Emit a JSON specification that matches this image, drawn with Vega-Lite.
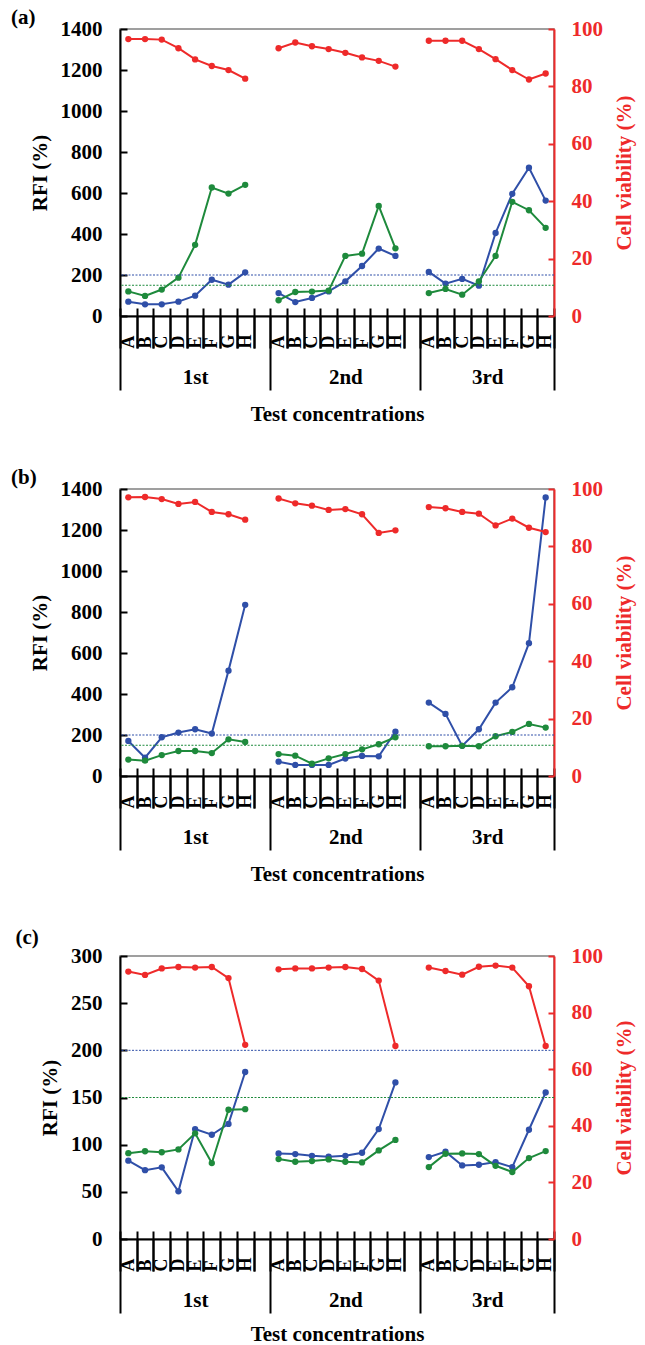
{
  "$schema": "https://vega.github.io/schema/vega-lite/v6.json",
  "background": "white",
  "padding": {"left": 10, "top": 6, "right": 5, "bottom": 0},
  "spacing": 41,
  "config": {
    "font": "Liberation Serif",
    "view": {"stroke": "#808080", "strokeWidth": 1.5},
    "axis": {
      "grid": false,
      "labelFont": "Liberation Serif", "labelFontWeight": "bold", "labelColor": "#000", "labelFontSize": 21,
      "titleFont": "Liberation Serif", "titleFontWeight": "bold", "titleColor": "#000", "titleFontSize": 21,
      "domainColor": "#000", "tickColor": "#000", "domainWidth": 2, "tickWidth": 2
    },
    "title": {"font": "Liberation Serif", "fontWeight": "bold", "fontSize": 21, "color": "#000", "anchor": "start", "frame": "bounds"}
  },
  "datasets": {
    "a": [
      {"run": "1st", "x": "1-A", "CD54": 70, "CD86": 120, "via": 96.5},
      {"run": "1st", "x": "1-B", "CD54": 57, "CD86": 98, "via": 96.5},
      {"run": "1st", "x": "1-C", "CD54": 57, "CD86": 129, "via": 96.3},
      {"run": "1st", "x": "1-D", "CD54": 70, "CD86": 187, "via": 93.3},
      {"run": "1st", "x": "1-E", "CD54": 99, "CD86": 347, "via": 89.4},
      {"run": "1st", "x": "1-F", "CD54": 177, "CD86": 627, "via": 87.1},
      {"run": "1st", "x": "1-G", "CD54": 153, "CD86": 597, "via": 85.7},
      {"run": "1st", "x": "1-H", "CD54": 213, "CD86": 640, "via": 82.7},
      {"run": "2nd", "x": "2-A", "CD54": 112, "CD86": 77, "via": 93.3},
      {"run": "2nd", "x": "2-B", "CD54": 68, "CD86": 117, "via": 95.3},
      {"run": "2nd", "x": "2-C", "CD54": 88, "CD86": 119, "via": 94.0},
      {"run": "2nd", "x": "2-D", "CD54": 120, "CD86": 124, "via": 93.0},
      {"run": "2nd", "x": "2-E", "CD54": 169, "CD86": 293, "via": 91.7},
      {"run": "2nd", "x": "2-F", "CD54": 244, "CD86": 304, "via": 90.1},
      {"run": "2nd", "x": "2-G", "CD54": 329, "CD86": 537, "via": 88.9},
      {"run": "2nd", "x": "2-H", "CD54": 293, "CD86": 330, "via": 86.9},
      {"run": "3rd", "x": "3-A", "CD54": 215, "CD86": 112, "via": 95.9},
      {"run": "3rd", "x": "3-B", "CD54": 158, "CD86": 132, "via": 95.9},
      {"run": "3rd", "x": "3-C", "CD54": 181, "CD86": 104, "via": 95.9},
      {"run": "3rd", "x": "3-D", "CD54": 148, "CD86": 169, "via": 93.0},
      {"run": "3rd", "x": "3-E", "CD54": 405, "CD86": 293, "via": 89.5},
      {"run": "3rd", "x": "3-F", "CD54": 596, "CD86": 557, "via": 85.7},
      {"run": "3rd", "x": "3-G", "CD54": 723, "CD86": 516, "via": 82.4},
      {"run": "3rd", "x": "3-H", "CD54": 563, "CD86": 430, "via": 84.5}
    ],
    "b": [
      {"run": "1st", "x": "1-A", "CD54": 171, "CD86": 80, "via": 97.1},
      {"run": "1st", "x": "1-B", "CD54": 89, "CD86": 75, "via": 97.2},
      {"run": "1st", "x": "1-C", "CD54": 189, "CD86": 102, "via": 96.5},
      {"run": "1st", "x": "1-D", "CD54": 212, "CD86": 122, "via": 94.8},
      {"run": "1st", "x": "1-E", "CD54": 228, "CD86": 122, "via": 95.5},
      {"run": "1st", "x": "1-F", "CD54": 207, "CD86": 112, "via": 92.0},
      {"run": "1st", "x": "1-G", "CD54": 514, "CD86": 179, "via": 91.2},
      {"run": "1st", "x": "1-H", "CD54": 835, "CD86": 166, "via": 89.3},
      {"run": "2nd", "x": "2-A", "CD54": 70, "CD86": 107, "via": 96.7},
      {"run": "2nd", "x": "2-B", "CD54": 54, "CD86": 99, "via": 95.0},
      {"run": "2nd", "x": "2-C", "CD54": 54, "CD86": 60, "via": 94.2},
      {"run": "2nd", "x": "2-D", "CD54": 54, "CD86": 86, "via": 92.7},
      {"run": "2nd", "x": "2-E", "CD54": 85, "CD86": 107, "via": 93.0},
      {"run": "2nd", "x": "2-F", "CD54": 98, "CD86": 130, "via": 91.2},
      {"run": "2nd", "x": "2-G", "CD54": 96, "CD86": 155, "via": 84.7},
      {"run": "2nd", "x": "2-H", "CD54": 216, "CD86": 189, "via": 85.6},
      {"run": "3rd", "x": "3-A", "CD54": 358, "CD86": 145, "via": 93.7},
      {"run": "3rd", "x": "3-B", "CD54": 303, "CD86": 145, "via": 93.3},
      {"run": "3rd", "x": "3-C", "CD54": 147, "CD86": 147, "via": 92.0},
      {"run": "3rd", "x": "3-D", "CD54": 228, "CD86": 145, "via": 91.4},
      {"run": "3rd", "x": "3-E", "CD54": 358, "CD86": 194, "via": 87.3},
      {"run": "3rd", "x": "3-F", "CD54": 433, "CD86": 215, "via": 89.7},
      {"run": "3rd", "x": "3-G", "CD54": 648, "CD86": 254, "via": 86.5},
      {"run": "3rd", "x": "3-H", "CD54": 1359, "CD86": 236, "via": 85.0}
    ],
    "c": [
      {"run": "1st", "x": "1-A", "CD54": 83, "CD86": 91, "via": 94.5},
      {"run": "1st", "x": "1-B", "CD54": 73, "CD86": 93, "via": 93.3},
      {"run": "1st", "x": "1-C", "CD54": 76, "CD86": 92, "via": 95.6},
      {"run": "1st", "x": "1-D", "CD54": 50.5, "CD86": 95, "via": 96.1},
      {"run": "1st", "x": "1-E", "CD54": 116.5, "CD86": 112, "via": 95.9},
      {"run": "1st", "x": "1-F", "CD54": 110.5, "CD86": 80.5, "via": 96.1},
      {"run": "1st", "x": "1-G", "CD54": 122, "CD86": 137, "via": 92.2},
      {"run": "1st", "x": "1-H", "CD54": 177, "CD86": 137.6, "via": 68.6},
      {"run": "2nd", "x": "2-A", "CD54": 90.7, "CD86": 84.7, "via": 95.3},
      {"run": "2nd", "x": "2-B", "CD54": 90, "CD86": 81.9, "via": 95.6},
      {"run": "2nd", "x": "2-C", "CD54": 88.2, "CD86": 82.6, "via": 95.6},
      {"run": "2nd", "x": "2-D", "CD54": 87.2, "CD86": 84.4, "via": 95.9},
      {"run": "2nd", "x": "2-E", "CD54": 88.2, "CD86": 81.9, "via": 96.1},
      {"run": "2nd", "x": "2-F", "CD54": 91.4, "CD86": 81.2, "via": 95.4},
      {"run": "2nd", "x": "2-G", "CD54": 116.5, "CD86": 93.9, "via": 91.3},
      {"run": "2nd", "x": "2-H", "CD54": 166, "CD86": 105, "via": 68.2},
      {"run": "3rd", "x": "3-A", "CD54": 86.8, "CD86": 76.2, "via": 95.9},
      {"run": "3rd", "x": "3-B", "CD54": 92.5, "CD86": 90.4, "via": 94.7},
      {"run": "3rd", "x": "3-C", "CD54": 78, "CD86": 90.7, "via": 93.4},
      {"run": "3rd", "x": "3-D", "CD54": 78.7, "CD86": 90, "via": 96.2},
      {"run": "3rd", "x": "3-E", "CD54": 81.5, "CD86": 77.6, "via": 96.6},
      {"run": "3rd", "x": "3-F", "CD54": 76.2, "CD86": 71, "via": 95.9},
      {"run": "3rd", "x": "3-G", "CD54": 115.8, "CD86": 85.8, "via": 89.3},
      {"run": "3rd", "x": "3-H", "CD54": 155.3, "CD86": 93.2, "via": 68.2}
    ]
  },
  "vconcat": [
    {
      "title": {"text": "(a)", "dx": -18, "offset": -10},
      "width": 434, "height": 287,
      "data": {"name": "a"},
      "layer": [
        {"layer": [
          {"transform": [{"fold": ["CD54", "CD86"]}],
           "mark": {"type": "line", "strokeWidth": 2, "point": {"filled": true, "size": 40}},
           "encoding": {
             "x": {"field": "x", "type": "nominal", "bandPosition": 0.5,
                   "scale": {"type": "band", "paddingInner": 0, "paddingOuter": 0, "domain": ["1-A","1-B","1-C","1-D","1-E","1-F","1-G","1-H","1-gap","2-A","2-B","2-C","2-D","2-E","2-F","2-G","2-H","2-gap","3-A","3-B","3-C","3-D","3-E","3-F","3-G","3-H"]},
                   "axis": {"orient": "bottom", "offset": -8, "domain": false, "ticks": true, "tickBand": "extent", "tickSize": 40, "labelAngle": 270, "labelAlign": "left", "labelBaseline": "middle", "labelPadding": 0, "labelFontSize": 18, "labelOverlap": false, "labelBound": false, "labelFlush": false, "labelExpr": "datum.value === '1-gap' || datum.value === '2-gap' ? '' : slice(datum.label, 2)", "title": null}},
             "y": {"field": "value", "type": "quantitative", "scale": {"domain": [0, 1400], "nice": false},
                   "axis": {"orient": "left", "format": "d", "values": [0, 200, 400, 600, 800, 1000, 1200, 1400], "tickSize": -7, "labelPadding": 25, "title": "RFI (%)", "titlePadding": 10}},
             "color": {"field": "key", "type": "nominal", "scale": {"domain": ["CD54", "CD86"], "range": ["#2f4fa8", "#1e8a3c"]}, "legend": null},
             "detail": {"field": "run"}
           }},
          {"data": {"values": [{"key": "CD54", "thr": 200}, {"key": "CD86", "thr": 150}]},
           "mark": {"type": "rule", "strokeWidth": 1, "strokeDash": [2, 1.5]},
           "encoding": {
             "y": {"field": "thr", "type": "quantitative", "title": "RFI (%)", "scale": {"domain": [0, 1400], "nice": false}},
             "color": {"field": "key", "type": "nominal"}
           }}
        ]},
        {"mark": {"type": "line", "color": "#ee2a2a", "strokeWidth": 2, "point": {"filled": true, "size": 40, "color": "#ee2a2a"}},
         "encoding": {
           "x": {"field": "x", "type": "nominal", "bandPosition": 0.5,
                 "scale": {"type": "band", "paddingInner": 0, "paddingOuter": 0, "domain": ["1-A","1-B","1-C","1-D","1-E","1-F","1-G","1-H","1-gap","2-A","2-B","2-C","2-D","2-E","2-F","2-G","2-H","2-gap","3-A","3-B","3-C","3-D","3-E","3-F","3-G","3-H"]},
                 "axis": {"orient": "bottom", "offset": 0, "domain": true, "ticks": true, "tickBand": "extent",
                          "tickSize": {"condition": {"test": "datum.index < 0 || datum.value === '1-gap' || datum.value === '2-gap' || datum.value === '3-H'", "value": 74}, "value": 32},
                          "labelPadding": {"condition": {"test": "datum.index < 0 || datum.value === '1-gap' || datum.value === '2-gap' || datum.value === '3-H'", "value": -13}, "value": 29},
                          "labelAngle": 0, "labelAlign": "center", "labelBaseline": "middle",
                          "labelOffset": {"condition": {"test": "datum.value === '3-D'", "value": 8.35}, "value": 0},
                          "labelOverlap": false, "labelBound": false, "labelFlush": false,
                          "labelExpr": "datum.value === '1-E' ? '1st' : datum.value === '2-E' ? '2nd' : datum.value === '3-D' ? '3rd' : ''",
                          "title": "Test concentrations", "titlePadding": 12}},
           "y": {"field": "via", "type": "quantitative", "scale": {"domain": [0, 100], "nice": false},
                 "axis": {"orient": "right", "values": [0, 20, 40, 60, 80, 100], "tickSize": -6, "labelPadding": 23, "domainColor": "#ee2a2a", "tickColor": "#ee2a2a", "labelColor": "#ee2a2a", "titleColor": "#ee2a2a", "title": "Cell viability (%)", "titleAngle": 270, "titleBaseline": "top", "titlePadding": 11}},
           "detail": {"field": "run"}
         }}
      ],
      "resolve": {"scale": {"x": "independent", "y": "independent"}, "axis": {"x": "independent", "y": "independent"}}
    },
    {
      "title": {"text": "(b)", "dx": -18, "offset": -10},
      "width": 434, "height": 287,
      "data": {"name": "b"},
      "layer": [
        {"layer": [
          {"transform": [{"fold": ["CD54", "CD86"]}],
           "mark": {"type": "line", "strokeWidth": 2, "point": {"filled": true, "size": 40}},
           "encoding": {
             "x": {"field": "x", "type": "nominal", "bandPosition": 0.5,
                   "scale": {"type": "band", "paddingInner": 0, "paddingOuter": 0, "domain": ["1-A","1-B","1-C","1-D","1-E","1-F","1-G","1-H","1-gap","2-A","2-B","2-C","2-D","2-E","2-F","2-G","2-H","2-gap","3-A","3-B","3-C","3-D","3-E","3-F","3-G","3-H"]},
                   "axis": {"orient": "bottom", "offset": -8, "domain": false, "ticks": true, "tickBand": "extent", "tickSize": 40, "labelAngle": 270, "labelAlign": "left", "labelBaseline": "middle", "labelPadding": 0, "labelFontSize": 18, "labelOverlap": false, "labelBound": false, "labelFlush": false, "labelExpr": "datum.value === '1-gap' || datum.value === '2-gap' ? '' : slice(datum.label, 2)", "title": null}},
             "y": {"field": "value", "type": "quantitative", "scale": {"domain": [0, 1400], "nice": false},
                   "axis": {"orient": "left", "format": "d", "values": [0, 200, 400, 600, 800, 1000, 1200, 1400], "tickSize": -7, "labelPadding": 25, "title": "RFI (%)", "titlePadding": 10}},
             "color": {"field": "key", "type": "nominal", "scale": {"domain": ["CD54", "CD86"], "range": ["#2f4fa8", "#1e8a3c"]}, "legend": null},
             "detail": {"field": "run"}
           }},
          {"data": {"values": [{"key": "CD54", "thr": 200}, {"key": "CD86", "thr": 150}]},
           "mark": {"type": "rule", "strokeWidth": 1, "strokeDash": [2, 1.5]},
           "encoding": {
             "y": {"field": "thr", "type": "quantitative", "title": "RFI (%)", "scale": {"domain": [0, 1400], "nice": false}},
             "color": {"field": "key", "type": "nominal"}
           }}
        ]},
        {"mark": {"type": "line", "color": "#ee2a2a", "strokeWidth": 2, "point": {"filled": true, "size": 40, "color": "#ee2a2a"}},
         "encoding": {
           "x": {"field": "x", "type": "nominal", "bandPosition": 0.5,
                 "scale": {"type": "band", "paddingInner": 0, "paddingOuter": 0, "domain": ["1-A","1-B","1-C","1-D","1-E","1-F","1-G","1-H","1-gap","2-A","2-B","2-C","2-D","2-E","2-F","2-G","2-H","2-gap","3-A","3-B","3-C","3-D","3-E","3-F","3-G","3-H"]},
                 "axis": {"orient": "bottom", "offset": 0, "domain": true, "ticks": true, "tickBand": "extent",
                          "tickSize": {"condition": {"test": "datum.index < 0 || datum.value === '1-gap' || datum.value === '2-gap' || datum.value === '3-H'", "value": 74}, "value": 32},
                          "labelPadding": {"condition": {"test": "datum.index < 0 || datum.value === '1-gap' || datum.value === '2-gap' || datum.value === '3-H'", "value": -13}, "value": 29},
                          "labelAngle": 0, "labelAlign": "center", "labelBaseline": "middle",
                          "labelOffset": {"condition": {"test": "datum.value === '3-D'", "value": 8.35}, "value": 0},
                          "labelOverlap": false, "labelBound": false, "labelFlush": false,
                          "labelExpr": "datum.value === '1-E' ? '1st' : datum.value === '2-E' ? '2nd' : datum.value === '3-D' ? '3rd' : ''",
                          "title": "Test concentrations", "titlePadding": 12}},
           "y": {"field": "via", "type": "quantitative", "scale": {"domain": [0, 100], "nice": false},
                 "axis": {"orient": "right", "values": [0, 20, 40, 60, 80, 100], "tickSize": -6, "labelPadding": 23, "domainColor": "#ee2a2a", "tickColor": "#ee2a2a", "labelColor": "#ee2a2a", "titleColor": "#ee2a2a", "title": "Cell viability (%)", "titleAngle": 270, "titleBaseline": "top", "titlePadding": 11}},
           "detail": {"field": "run"}
         }}
      ],
      "resolve": {"scale": {"x": "independent", "y": "independent"}, "axis": {"x": "independent", "y": "independent"}}
    },
    {
      "title": {"text": "(c)", "dx": -24, "offset": -3},
      "width": 434, "height": 283,
      "data": {"name": "c"},
      "layer": [
        {"layer": [
          {"transform": [{"fold": ["CD54", "CD86"]}],
           "mark": {"type": "line", "strokeWidth": 2, "point": {"filled": true, "size": 40}},
           "encoding": {
             "x": {"field": "x", "type": "nominal", "bandPosition": 0.5,
                   "scale": {"type": "band", "paddingInner": 0, "paddingOuter": 0, "domain": ["1-A","1-B","1-C","1-D","1-E","1-F","1-G","1-H","1-gap","2-A","2-B","2-C","2-D","2-E","2-F","2-G","2-H","2-gap","3-A","3-B","3-C","3-D","3-E","3-F","3-G","3-H"]},
                   "axis": {"orient": "bottom", "offset": -8, "domain": false, "ticks": true, "tickBand": "extent", "tickSize": 40, "labelAngle": 270, "labelAlign": "left", "labelBaseline": "middle", "labelPadding": 0, "labelFontSize": 18, "labelOverlap": false, "labelBound": false, "labelFlush": false, "labelExpr": "datum.value === '1-gap' || datum.value === '2-gap' ? '' : slice(datum.label, 2)", "title": null}},
             "y": {"field": "value", "type": "quantitative", "scale": {"domain": [0, 300], "nice": false},
                   "axis": {"orient": "left", "format": "d", "values": [0, 50, 100, 150, 200, 250, 300], "tickSize": -7, "labelPadding": 25, "title": "RFI (%)", "titlePadding": 10}},
             "color": {"field": "key", "type": "nominal", "scale": {"domain": ["CD54", "CD86"], "range": ["#2f4fa8", "#1e8a3c"]}, "legend": null},
             "detail": {"field": "run"}
           }},
          {"data": {"values": [{"key": "CD54", "thr": 200}, {"key": "CD86", "thr": 150}]},
           "mark": {"type": "rule", "strokeWidth": 1, "strokeDash": [2, 1.5]},
           "encoding": {
             "y": {"field": "thr", "type": "quantitative", "title": "RFI (%)", "scale": {"domain": [0, 300], "nice": false}},
             "color": {"field": "key", "type": "nominal"}
           }}
        ]},
        {"mark": {"type": "line", "color": "#ee2a2a", "strokeWidth": 2, "point": {"filled": true, "size": 40, "color": "#ee2a2a"}},
         "encoding": {
           "x": {"field": "x", "type": "nominal", "bandPosition": 0.5,
                 "scale": {"type": "band", "paddingInner": 0, "paddingOuter": 0, "domain": ["1-A","1-B","1-C","1-D","1-E","1-F","1-G","1-H","1-gap","2-A","2-B","2-C","2-D","2-E","2-F","2-G","2-H","2-gap","3-A","3-B","3-C","3-D","3-E","3-F","3-G","3-H"]},
                 "axis": {"orient": "bottom", "offset": 0, "domain": true, "ticks": true, "tickBand": "extent",
                          "tickSize": {"condition": {"test": "datum.index < 0 || datum.value === '1-gap' || datum.value === '2-gap' || datum.value === '3-H'", "value": 74}, "value": 32},
                          "labelPadding": {"condition": {"test": "datum.index < 0 || datum.value === '1-gap' || datum.value === '2-gap' || datum.value === '3-H'", "value": -13}, "value": 29},
                          "labelAngle": 0, "labelAlign": "center", "labelBaseline": "middle",
                          "labelOffset": {"condition": {"test": "datum.value === '3-D'", "value": 8.35}, "value": 0},
                          "labelOverlap": false, "labelBound": false, "labelFlush": false,
                          "labelExpr": "datum.value === '1-E' ? '1st' : datum.value === '2-E' ? '2nd' : datum.value === '3-D' ? '3rd' : ''",
                          "title": "Test concentrations", "titlePadding": 9}},
           "y": {"field": "via", "type": "quantitative", "scale": {"domain": [0, 100], "nice": false},
                 "axis": {"orient": "right", "values": [0, 20, 40, 60, 80, 100], "tickSize": -6, "labelPadding": 23, "domainColor": "#ee2a2a", "tickColor": "#ee2a2a", "labelColor": "#ee2a2a", "titleColor": "#ee2a2a", "title": "Cell viability (%)", "titleAngle": 270, "titleBaseline": "top", "titlePadding": 11}},
           "detail": {"field": "run"}
         }}
      ],
      "resolve": {"scale": {"x": "independent", "y": "independent"}, "axis": {"x": "independent", "y": "independent"}}
    }
  ]
}
